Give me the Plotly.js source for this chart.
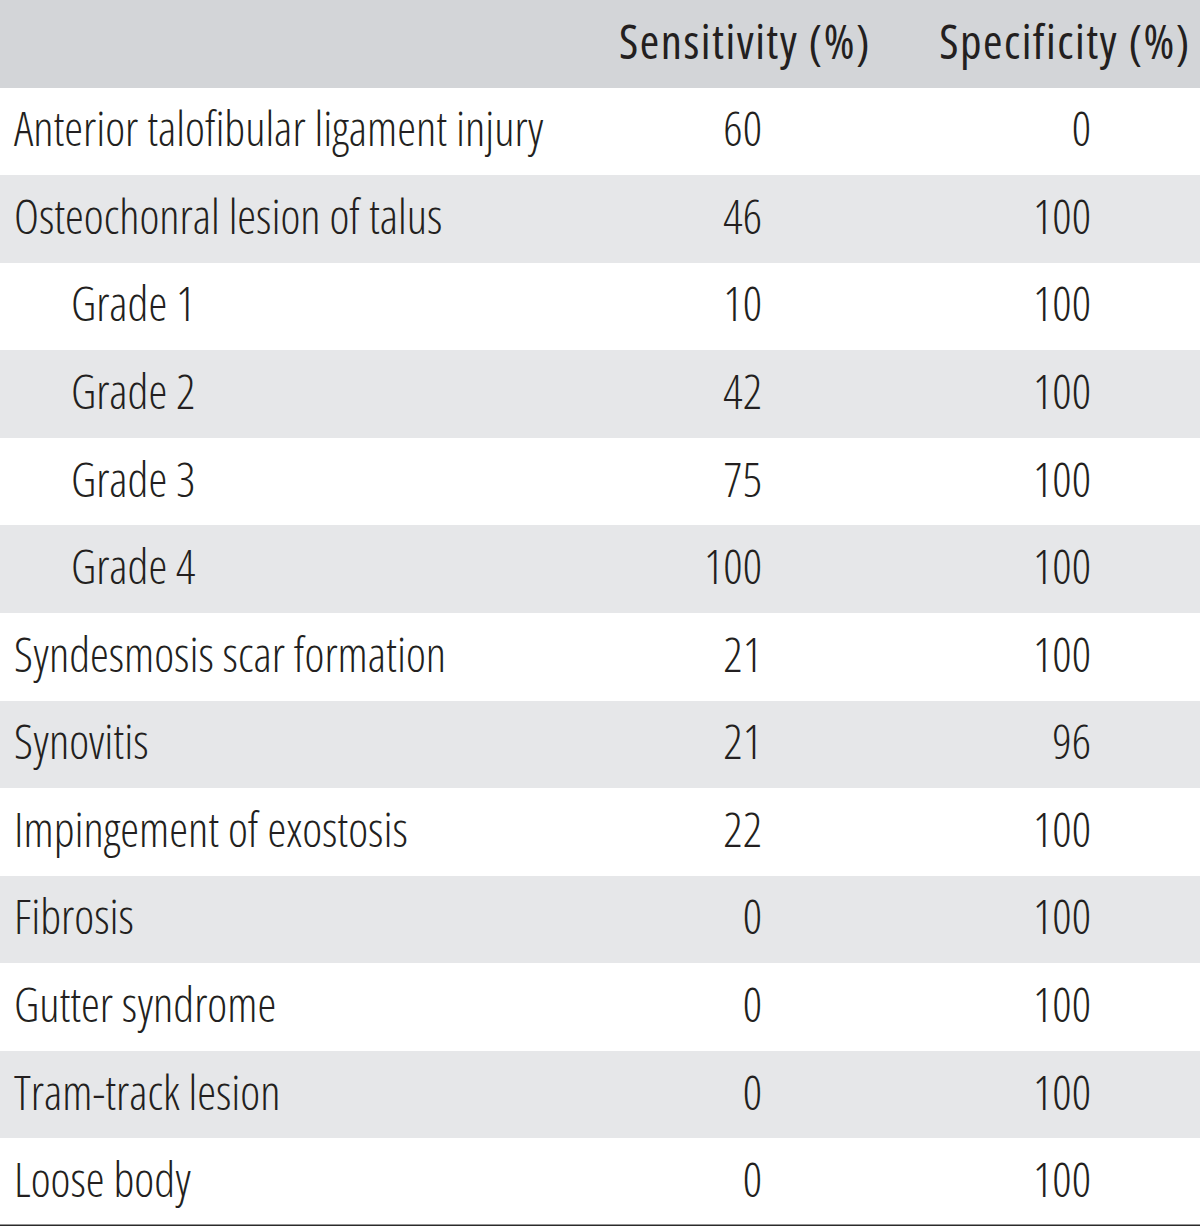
<!DOCTYPE html>
<html>
<head>
<meta charset="utf-8">
<script src="https://cdn.plot.ly/plotly-3.0.1.min.js"></script>
<style>
  html, body { margin: 0; padding: 0; background: #fff; }
  #chart-table { width: 1200px; height: 1229px; }
  /* condensed cut of the variable Open Sans, nudged to sit on the row baseline */
  #chart-table .scatterlayer text { font-stretch: 75%; transform: translateY(3px); }
  #chart-table .scatterlayer .trace:last-child text { letter-spacing: 1.5px; }
</style>
</head>
<body>
<div id="chart-table"></div>
<script>
const HEADERS = ['Sensitivity (%)', 'Specificity (%)'];

const FINDINGS = [
    'Anterior talofibular ligament injury',
    'Osteochonral lesion of talus',
    'Grade 1',
    'Grade 2',
    'Grade 3',
    'Grade 4',
    'Syndesmosis scar formation',
    'Synovitis',
    'Impingement of exostosis',
    'Fibrosis',
    'Gutter syndrome',
    'Tram-track lesion',
    'Loose body',
];

const SENSITIVITY = [60, 46, 10, 42, 75, 100, 21, 21, 22, 0, 0, 0, 0];
const SPECIFICITY = [0, 100, 100, 100, 100, 100, 100, 96, 100, 100, 100, 100, 100];

const TEXT_COLOR = '#231f20';
const HEADER_FILL = '#d3d5d8';
const STRIPE_FILL = '#e6e7e9';
const FONT = '"Open Sans", sans-serif';


function renderTable() {
    // row 0 is the header band, rows 1..n are findings
    const rowIdx = FINDINGS.map((_, i) => i + 1);
    const allRows = [0, ...rowIdx];
    const fills = allRows.map(r => r === 0 ? HEADER_FILL : (r % 2 === 0 ? STRIPE_FILL : '#ffffff'));

    const isSub = FINDINGS.map(f => f.startsWith('Grade'));
    const bodyFont = { family: FONT, size: 47.5, weight: 300, color: TEXT_COLOR };

    const bands = {
        type: 'bar',
        orientation: 'h',
        y: allRows,
        x: allRows.map(() => 1200),
        width: allRows.map(() => 1),
        marker: { color: fills, line: { width: 0 } },
        hoverinfo: 'skip',
    };

    const mainLabels = {
        type: 'scatter', mode: 'text',
        x: FINDINGS.map(() => 14).filter((_, i) => !isSub[i]),
        y: rowIdx.filter((_, i) => !isSub[i]),
        text: FINDINGS.filter((_, i) => !isSub[i]),
        textposition: 'middle right',
        textfont: bodyFont,
        hoverinfo: 'skip',
    };

    const subLabels = {
        type: 'scatter', mode: 'text',
        x: FINDINGS.map(() => 71).filter((_, i) => isSub[i]),
        y: rowIdx.filter((_, i) => isSub[i]),
        text: FINDINGS.filter((_, i) => isSub[i]),
        textposition: 'middle right',
        textfont: bodyFont,
        hoverinfo: 'skip',
    };

    const sensCol = {
        type: 'scatter', mode: 'text',
        x: rowIdx.map(() => 762),
        y: rowIdx,
        text: SENSITIVITY.map(String),
        textposition: 'middle left',
        textfont: bodyFont,
        hoverinfo: 'skip',
    };

    const specCol = {
        type: 'scatter', mode: 'text',
        x: rowIdx.map(() => 1091),
        y: rowIdx,
        text: SPECIFICITY.map(String),
        textposition: 'middle left',
        textfont: bodyFont,
        hoverinfo: 'skip',
    };

    const header = {
        type: 'scatter', mode: 'text',
        x: [745, 1065],
        y: [0, 0],
        text: HEADERS,
        textposition: 'middle center',
        textfont: { family: FONT, size: 47, weight: 400, color: TEXT_COLOR },
        hoverinfo: 'skip',
    };

    const layout = {
        width: 1200,
        height: 1229,
        margin: { t: 0, r: 0, b: 3, l: 0 },
        paper_bgcolor: '#ffffff',
        plot_bgcolor: '#ffffff',
        showlegend: false,
        bargap: 0,
        xaxis: { range: [0, 1200], visible: false, fixedrange: true },
        yaxis: { range: [FINDINGS.length + 0.5, -0.5], visible: false, fixedrange: true },
        shapes: [{
            type: 'line', xref: 'paper', x0: 0, x1: 1,
            y0: FINDINGS.length + 0.5, y1: FINDINGS.length + 0.5,
            line: { color: '#2b2b2b', width: 3 },
        }],
    };

    Plotly.newPlot('chart-table', [bands, mainLabels, subLabels, sensCol, specCol, header], layout,
        { displayModeBar: false, staticPlot: true });
}

renderTable();
</script>
</body>
</html>
